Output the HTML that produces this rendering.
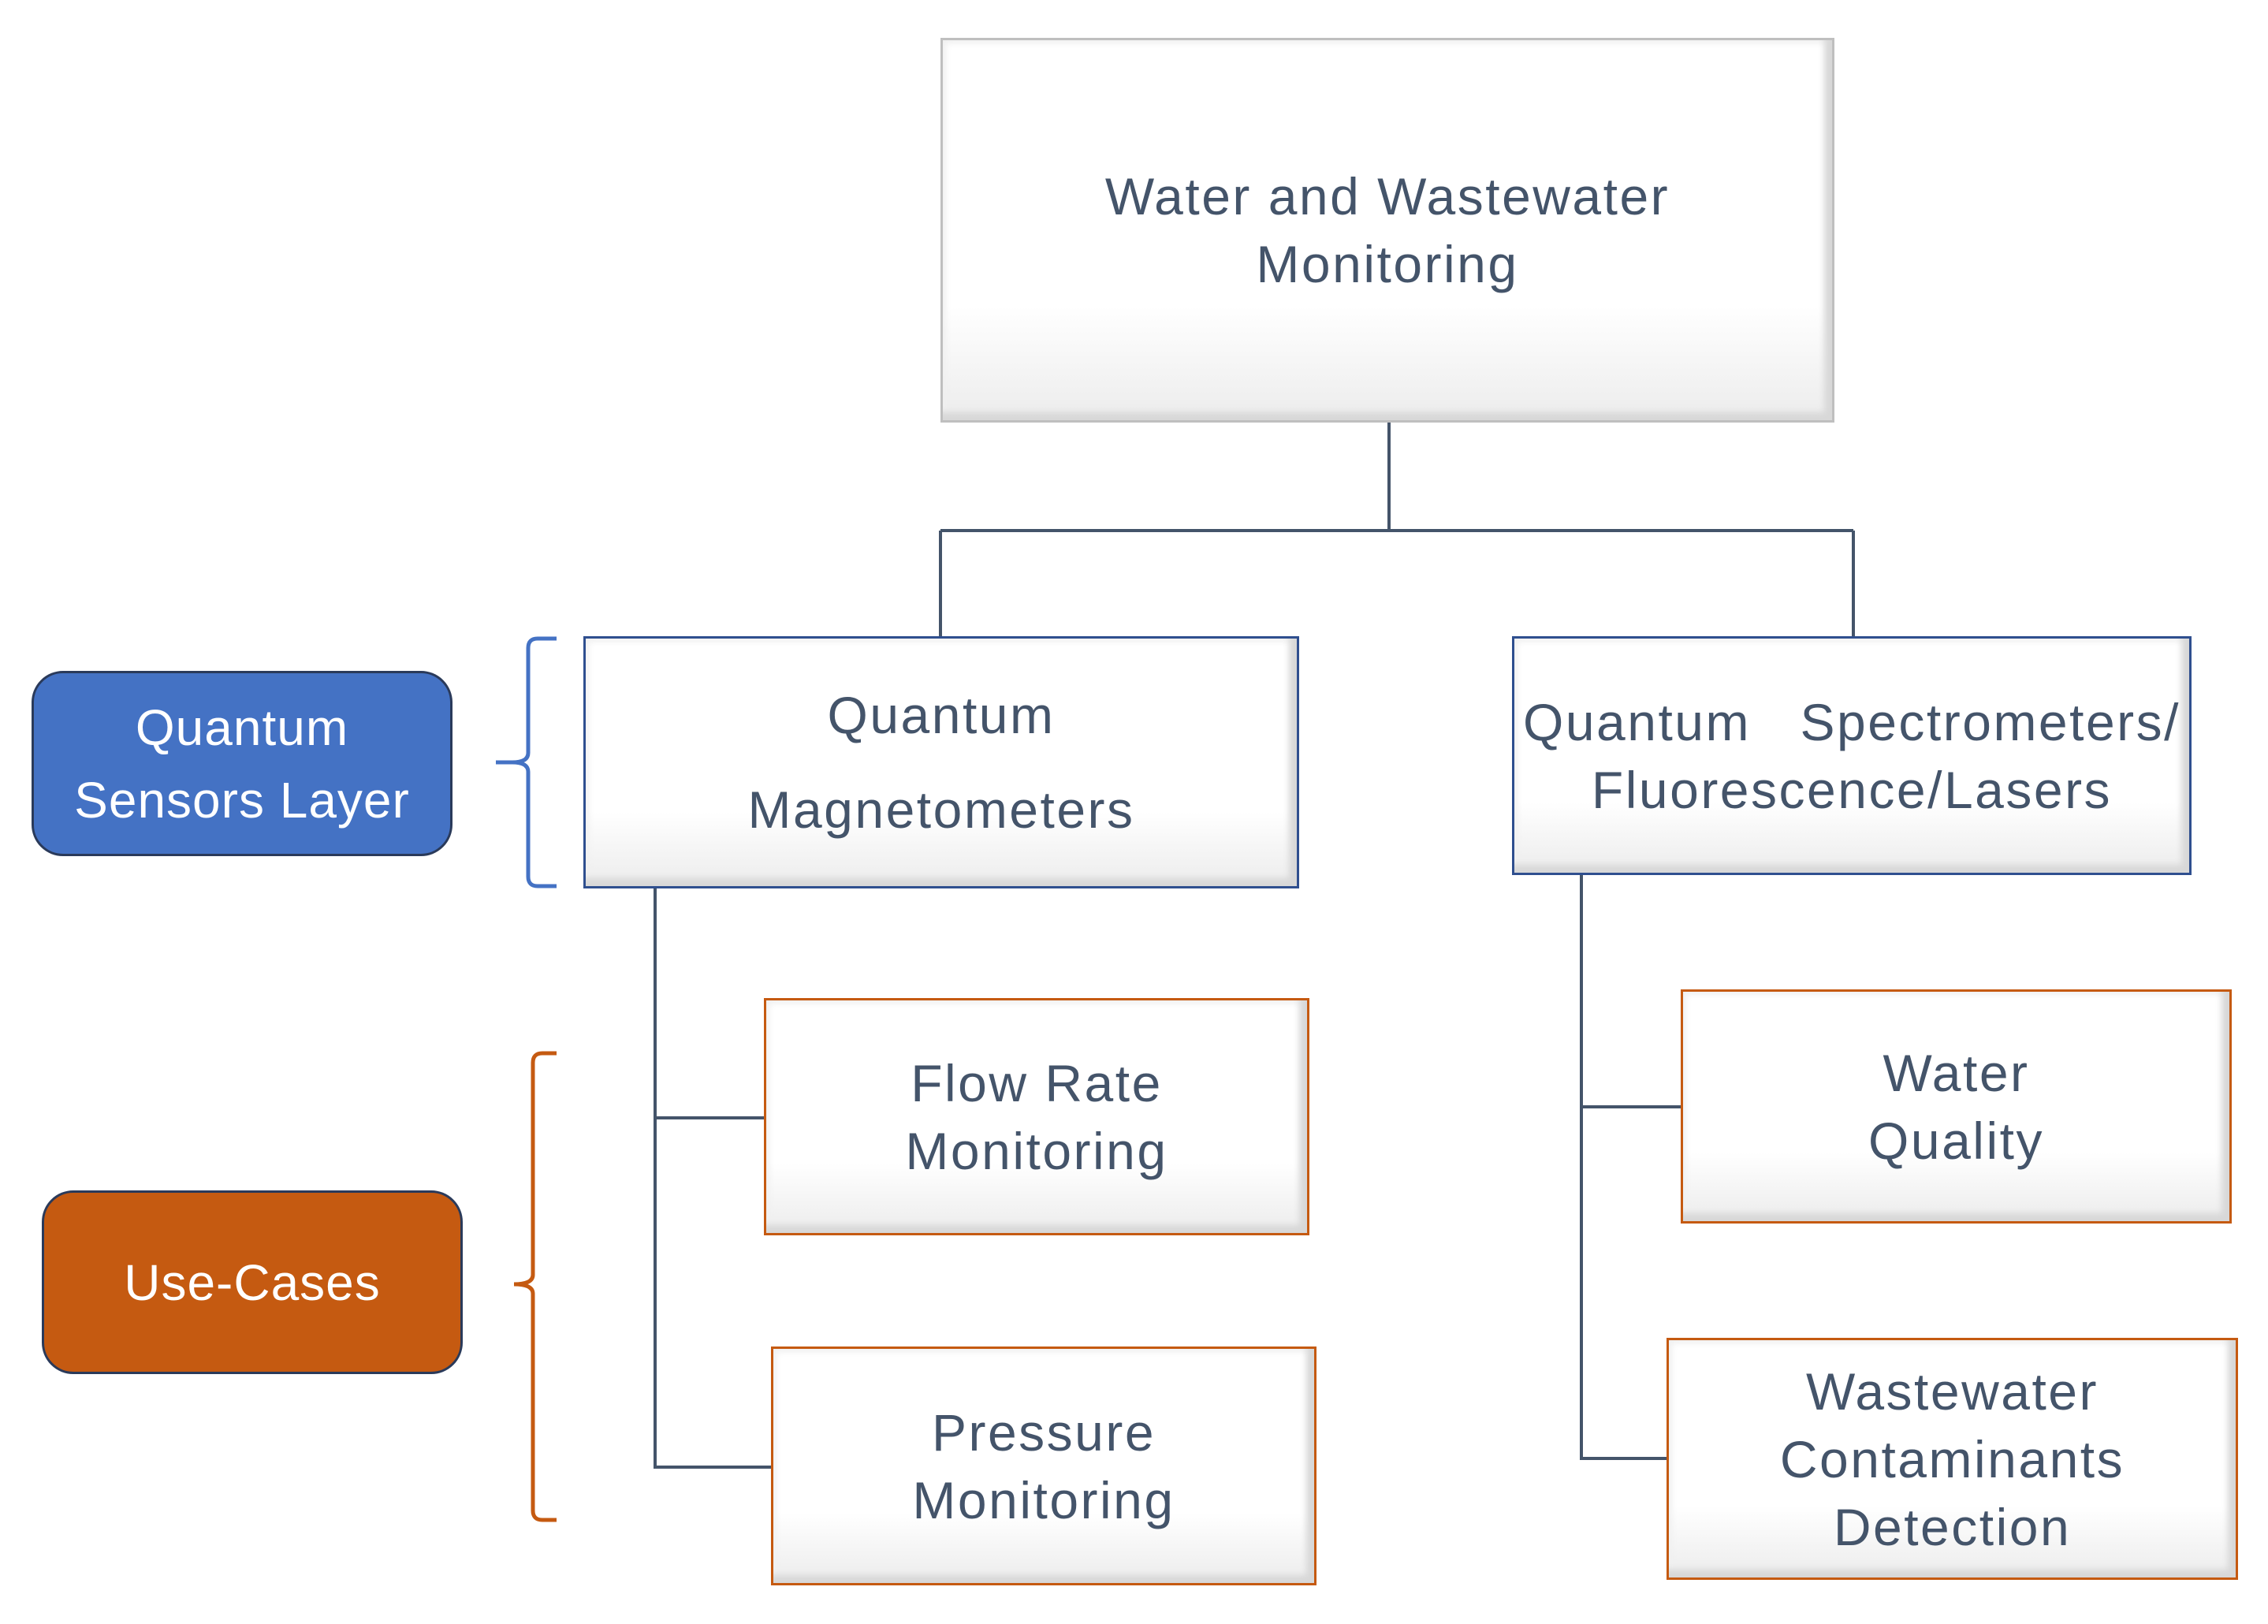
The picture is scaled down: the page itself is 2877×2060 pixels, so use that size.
<!DOCTYPE html>
<html><head><meta charset="utf-8"><style>
body{margin:0;width:2877px;height:2060px;background:#fff;position:relative;overflow:hidden;font-family:"Liberation Sans",sans-serif}
.b{position:absolute;box-sizing:border-box;background:linear-gradient(#fff 70%,#ececec);box-shadow:inset -16px -16px 8px -6px #d8d8d8, inset 10px 10px 8px -6px #f0f0f0;color:#44546A;font-size:66px;letter-spacing:2.5px;text-align:center;display:flex;flex-direction:column;justify-content:center;line-height:86px;white-space:nowrap}
.g{border:3px solid #bfbfbf}.bl{border:3px solid #2F4F8F}.or{border:3px solid #C55A11}
.p{position:absolute;box-sizing:border-box;border:3px solid #2a3a5a;border-radius:40px;color:#fff;font-size:64px;letter-spacing:1px;text-align:center;display:flex;flex-direction:column;justify-content:center;line-height:92px}
svg{position:absolute;left:0;top:0}
</style></head><body>
<svg width="2877" height="2060">
<g stroke="#44546A" stroke-width="4" fill="none">
<path d="M1762 536V673M1193 673H2351M1193 673V807M2351 673V807"/>
<path d="M831 1127V1861H978M831 1418H969"/>
<path d="M2006 1110V1850H2114M2006 1404H2132"/>
</g>
<path d="M706 810H682Q670 810 670 822V955Q670 967 650 967H629M650 967Q670 967 670 979V1112Q670 1124 682 1124H706" stroke="#4472C4" stroke-width="5" fill="none"/>
<path d="M706 1336H688Q676 1336 676 1348V1617Q676 1629 652 1629M652 1629Q676 1629 676 1641V1916Q676 1928 688 1928H706" stroke="#C55A11" stroke-width="5" fill="none"/>
</svg>
<div class="b g" style="left:1193px;top:48px;width:1134px;height:488px">Water and Wastewater<br>Monitoring</div>
<div class="b bl" style="left:740px;top:807px;width:908px;height:320px;line-height:120px">Quantum<br>Magnetometers</div>
<div class="b bl" style="left:1918px;top:807px;width:862px;height:303px">Quantum&nbsp;&nbsp; Spectrometers/<br>Fluorescence/Lasers</div>
<div class="b or" style="left:969px;top:1266px;width:692px;height:301px">Flow Rate<br>Monitoring</div>
<div class="b or" style="left:978px;top:1708px;width:692px;height:303px">Pressure<br>Monitoring</div>
<div class="b or" style="left:2132px;top:1255px;width:699px;height:297px">Water<br>Quality</div>
<div class="b or" style="left:2114px;top:1697px;width:725px;height:307px">Wastewater<br>Contaminants<br>Detection</div>
<div class="p" style="left:40px;top:851px;width:534px;height:235px;background:#4472C4">Quantum<br>Sensors Layer</div>
<div class="p" style="left:53px;top:1510px;width:534px;height:233px;background:#C55A11">Use-Cases</div>
</body></html>
